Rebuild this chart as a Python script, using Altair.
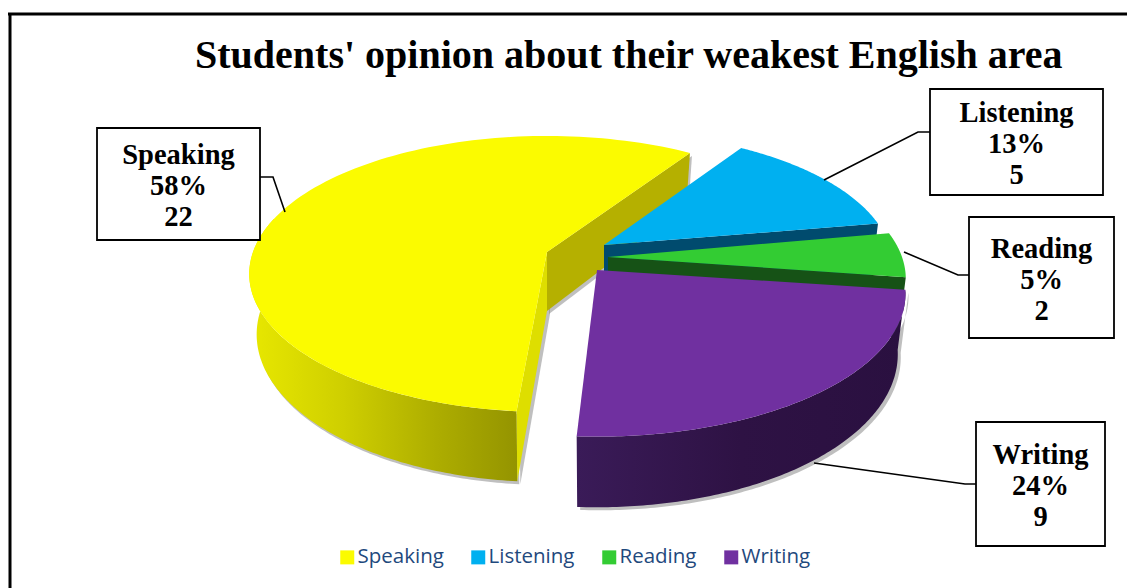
import math
import altair as alt
import pandas as pd

# Survey answers
categories = ["Speaking", "Listening", "Reading", "Writing"]
counts = [22, 5, 2, 9]
top_colors = ["#FBFB00", "#00B0F0", "#33CC33", "#7030A0"]
total = sum(counts)
percents = [round(c / total * 100) for c in counts]

TITLE = "Students' opinion about their weakest English area"

# Pie rendering: a tilted disc seen in perspective, slices pulled from the centre
FIRST_ANGLE = 185.0
RX, RY, PERSP, DEPTH, BASE_SHRINK = 294.0, 134.5, 0.159, 59.0, 0.975
hubs = {"Speaking": (547, 252), "Listening": (604, 245), "Reading": (608, 257), "Writing": (597, 270)}
radius_scale = {"Speaking": 1.0, "Listening": 0.97, "Reading": 1.0, "Writing": 1.035}
angle_shift = {"Speaking": 0.0, "Listening": -0.5, "Reading": -1.3, "Writing": -1.8}

# Callout placement: box left, top, right, bottom and the leader's three points
callouts = {
    "Speaking": ((97, 128, 260, 240), [(260, 177), (273, 177), (285, 212)]),
    "Listening": ((930, 89, 1103, 195), [(930, 132), (918, 132), (824, 180)]),
    "Reading": ((969, 217, 1114, 338), [(969, 275), (958, 275), (904, 252)]),
    "Writing": ((976, 422, 1105, 546), [(976, 484), (965, 484), (814, 463)]),
}


def rim(name, angle, lower=False):
    """Screen position of a rim point at a clockwise-from-up angle."""
    hx, hy = hubs[name]
    s = radius_scale[name]
    rad = math.radians(angle + angle_shift[name])
    u, v = math.sin(rad) * s, -math.cos(rad) * s
    k = 1 / (1 - PERSP * v)
    if lower:
        return (hx + RX * u * k * BASE_SHRINK, hy + RY * v * k + DEPTH * k)
    return (hx + RX * u * k, hy + RY * v * k)


def hub(name, lower=False):
    hx, hy = hubs[name]
    return (hx, hy + DEPTH) if lower else (hx, hy)


def sweep(a0, a1, n=120):
    return [a0 + (a1 - a0) * i / n for i in range(n + 1)]


def feature(points, name, dx=0, dy=0):
    ring = [[round(x + dx, 2), round(y + dy, 2)] for x, y in points]
    ring.append(ring[0])
    return {"type": "Feature", "geometry": {"type": "Polygon", "coordinates": [ring]},
            "properties": {"category": name}}


# Slice angles follow directly from the counts
spans = {}
start = FIRST_ANGLE
for name, c in zip(categories, counts):
    spans[name] = (start, start + c / total * 360)
    start = spans[name][1]


def top_face(name):
    a0, a1 = spans[name]
    return [hub(name)] + [rim(name, a) for a in sweep(a0, a1)]


def side_wall(name, a0, a1):
    upper = [rim(name, a) for a in sweep(a0, a1)]
    lower = [rim(name, a, True) for a in sweep(a0, a1)]
    return upper + lower[::-1]


def cut_face(name, angle):
    return [hub(name), rim(name, angle), rim(name, angle, True), hub(name, True)]


sp0, sp1 = spans["Speaking"]
li0, li1 = spans["Listening"]
re0, re1 = spans["Reading"]
wr0, wr1 = spans["Writing"]


def shape(features, **mark):
    return (
        alt.Chart(alt.Data(values=features))
        .mark_geoshape(strokeWidth=0, **mark)
        .project(type="identity", scale=1, translate=[0, 0])
    )


def horizontal(*stops):
    return alt.LinearGradient(
        gradient="linear", x1=0, x2=1, y1=0, y2=0,
        stops=[alt.GradientStop(color=c, offset=o) for o, c in stops],
    )


# Soft ground shadow under the raised walls
shadow = shape(
    [
        feature(side_wall("Speaking", sp0, sp0 + 90), "Speaking", 2, 3),
        feature(cut_face("Speaking", sp0), "Speaking", 3, 3),
        feature(cut_face("Speaking", sp1), "Speaking", 2, 3),
        feature(side_wall("Writing", wr0, wr1), "Writing", 3, 3),
    ],
    fill="#8a8a8a", opacity=0.55,
)

speaking_back = shape([feature(cut_face("Speaking", sp1), "Speaking")], fill="#B5B000")
speaking_wall = shape(
    [feature(side_wall("Speaking", sp0, sp0 + 100), "Speaking")],
    fill=horizontal((0, "#E8E800"), (0.35, "#CFCF00"), (0.7, "#ADAD00"), (1, "#949400")),
)
speaking_front = shape([feature(cut_face("Speaking", sp0), "Speaking")], fill="#DEDE00")
listening_face = shape([feature(cut_face("Listening", li1), "Listening")], fill="#004B6E")
reading_face = shape([feature(cut_face("Reading", re1), "Reading")], fill="#165216")
writing_wall = shape(
    [feature(side_wall("Writing", wr0, wr1), "Writing")],
    fill=horizontal((0, "#3A1B58"), (0.5, "#2E1244"), (1, "#2A1040")),
)

legend = alt.Legend(
    orient="none", legendX=337, legendY=547, direction="horizontal", title=None,
    symbolType="square", symbolSize=196, symbolStrokeWidth=0, labelFont="Open Sans",
    labelFontSize=20.5, labelColor="#1F497D", labelOffset=0, columnPadding=24, labelLimit=200,
)
tops = shape([feature(top_face(n), n) for n in categories]).encode(
    color=alt.Color(
        "properties.category:N",
        scale=alt.Scale(domain=categories, range=top_colors),
        sort=categories,
        legend=legend,
    )
)

# Callout boxes, their text and leader lines
box_rows = []
line_rows = []
for name, c, p in zip(categories, counts, percents):
    (l, t, r, b), leader = callouts[name]
    box_rows.append({"l": l, "t": t, "r": r, "b": b, "cx": (l + r) / 2, "cy": (t + b) / 2 - 29,
                     "label": f"{name}\n{p}%\n{c}"})
    for i, (x, y) in enumerate(leader):
        line_rows.append({"name": name, "i": i, "x": x, "y": y})
box_df = pd.DataFrame(box_rows)
line_df = pd.DataFrame(line_rows)

px = lambda f: alt.X(f, type="quantitative", scale=None, axis=None)
py = lambda f: alt.Y(f, type="quantitative", scale=None, axis=None)

leaders = alt.Chart(line_df).mark_line(color="black", strokeWidth=1.6).encode(
    x=px("x"), y=py("y"), detail="name:N", order="i:Q"
)
boxes = alt.Chart(box_df).mark_rect(fill="white", stroke="black", strokeWidth=1.8).encode(
    x=px("l"), x2="r", y=py("t"), y2="b"
)
labels = alt.Chart(box_df).mark_text(
    font="Liberation Serif", fontWeight="bold", fontSize=28.5, lineBreak="\n", lineHeight=31,
    color="black", align="center", baseline="middle",
).encode(x=px("cx"), y=py("cy"), text="label:N")

frame_top = alt.Chart(pd.DataFrame({"a": [0]})).mark_rule(color="black", strokeWidth=3).encode(
    x=alt.value(8), x2=alt.value(1127), y=alt.value(14)
)
frame_left = alt.Chart(pd.DataFrame({"a": [0]})).mark_rule(color="black", strokeWidth=3).encode(
    x=alt.value(10), y=alt.value(13), y2=alt.value(588)
)

chart = alt.layer(
    frame_top, frame_left, shadow, speaking_back, speaking_wall, speaking_front,
    listening_face, reading_face, writing_wall, tops, leaders, boxes, labels,
).properties(
    width=1127, height=588, padding=0, autosize=alt.AutoSizeParams(type="none"),
    background="white",
    title=alt.TitleParams(
        TITLE, anchor="start", frame="group", dx=195, dy=108, offset=0, baseline="alphabetic",
        font="Liberation Serif", fontWeight="bold", fontSize=40, color="black",
    ),
).configure_view(stroke=None)

chart.save("out.html", embed_options={"renderer": "svg", "actions": False})
